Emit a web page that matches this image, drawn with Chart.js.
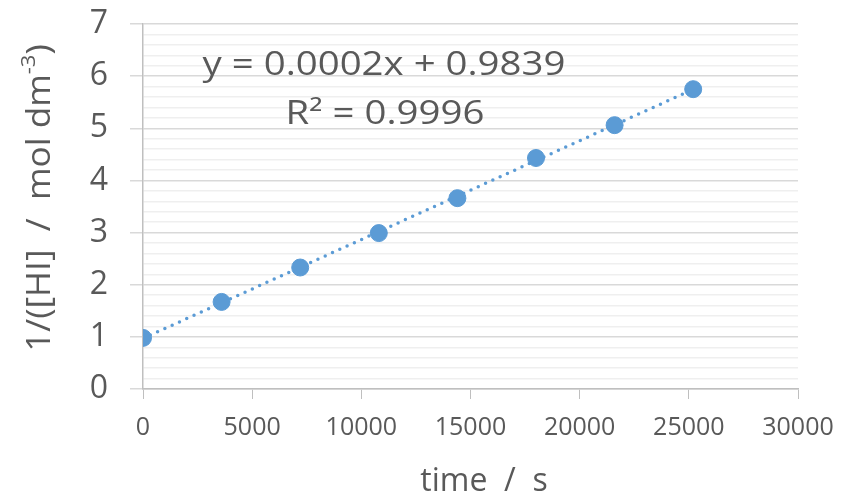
<!DOCTYPE html>
<html>
<head>
<meta charset="utf-8">
<script src="https://cdn.jsdelivr.net/npm/chart.js@4/dist/chart.umd.min.js"></script>
<style>
  body { margin: 0; background: #ffffff; }
  canvas { display: block; }
</style>
</head>
<body>
<canvas id="grafica" width="843" height="500"></canvas>
<script>
// datos
var tiempos = [0, 3600, 7200, 10800, 14400, 18000, 21600, 25200];
var inversoHI = [0.98, 1.67, 2.33, 2.99, 3.66, 4.43, 5.06, 5.75];
var ticksX = [0, 5000, 10000, 15000, 20000, 25000, 30000];
var ecuacion = "y = 0.0002x + 0.9839";
var rCuadrada = "R\u00B2 = 0.9996";

var azul = '#5b9bd5';
var gris = '#595959';

/* linea de tendencia por minimos cuadrados */
function tendencia(xs, ys){
  var n = xs.length, sx = 0, sy = 0, sxx = 0, sxy = 0;
  for (var i = 0; i < n; i++) {
    sx += xs[i]; sy += ys[i]; sxx += xs[i]*xs[i]; sxy += xs[i]*ys[i];
  }
  var m = (n*sxy - sx*sy) / (n*sxx - sx*sx);
  var b = (sy - m*sx) / n;
  var x0 = xs[0], x1 = xs[n-1];
  return [{x: x0, y: m*x0 + b}, {x: x1, y: m*x1 + b}];
}

var puntos = tiempos.map(function(t, i){ return {x: t, y: inversoHI[i]}; });

function esEntero(v){ return Math.abs(v - Math.round(v)) < 1e-6; }

// texto estirado a lo ancho, como en la imagen original
function textoAncho(ctx, txt, cx, cy, esc){
  ctx.save();
  ctx.scale(esc, 1);
  ctx.fillText(txt, cx/esc, cy);
  ctx.restore();
}

var textos = {
  id: 'textos',
  afterDraw: function(chart){
    var ctx = chart.ctx;
    ctx.save();
    ctx.fillStyle = gris;
    ctx.textBaseline = 'middle';
    // ecuacion
    ctx.font = '32px "Open Sans"';
    ctx.textAlign = 'center';
    textoAncho(ctx, ecuacion, 384, 66, 1.2);
    textoAncho(ctx, rCuadrada, 385, 115, 1.2);
    // titulo eje x
    ctx.font = '32px "Open Sans"';
    ctx.fillText('time  /  s', 484, 482);
    // titulo eje y con superindice
    ctx.translate(41, 198);
    ctx.rotate(-Math.PI/2);
    ctx.scale(1.1, 1);
    ctx.textAlign = 'left';
    var p1 = '1/([HI]  /  mol dm', p2 = '-3', p3 = ')';
    ctx.font = '32px "Open Sans"';
    var w1 = ctx.measureText(p1).width, w3 = ctx.measureText(p3).width;
    ctx.font = '20px "Open Sans"';
    var w2 = ctx.measureText(p2).width;
    var x = -(w1 + w2 + w3)/2;
    ctx.font = '32px "Open Sans"';
    ctx.fillText(p1, x, 0);
    ctx.font = '20px "Open Sans"';
    ctx.fillText(p2, x + w1, -12);
    ctx.font = '32px "Open Sans"';
    ctx.fillText(p3, x + w1 + w2, 0);
    ctx.restore();
  }
};

var ctx = document.getElementById('grafica').getContext('2d');
var chart = new Chart(ctx, {
  type: 'scatter',
  data: {
    datasets: [{
      label: 'datos',
      data: puntos,
      backgroundColor: azul,
      borderColor: azul,
      pointRadius: 8.5,
      pointHoverRadius: 8.5,
      order: 1
    }, {
      label: 'tendencia',
      type: 'line',
      data: tendencia(tiempos, inversoHI),
      borderColor: azul,
      borderWidth: 3.5,
      borderDash: [0, 8],
      borderCapStyle: 'round',
      pointRadius: 0,
      fill: false,
      order: 2
    }]
  },
  options: {
    responsive: false,
    animation: false,
    layout: { padding: { top: 24, right: 45, left: 0, bottom: 0 } },
    plugins: { legend: { display: false }, tooltip: { enabled: false } },
    scales: {
      x: {
        type: 'linear',
        min: 0, max: 30000,
        afterBuildTicks: function(scale){
          scale.ticks = ticksX.map(function(v){ return {value: v}; });
        },
        afterFit: function(scale){
          scale.height = 111;
          scale.paddingLeft = 0;
          scale.paddingRight = 0;
        },
        grid: {
          drawOnChartArea: false,
          drawTicks: true,
          tickLength: 10,
          color: '#bfbfbf',
          tickColor: '#bfbfbf'
        },
        border: { color: '#bfbfbf', width: 1.5 },
        ticks: {
          color: gris,
          padding: 14,
          maxRotation: 0,
          font: { family: '"Open Sans"', size: 25 },
          callback: function(v){ return String(v); }
        }
      },
      y: {
        min: 0, max: 7,
        afterFit: function(scale){
          scale.width = 143;
          scale.paddingTop = 0;
          scale.paddingBottom = 0;
        },
        grid: {
          color: function(c){ return esEntero(c.tick.value) ? '#d9d9d9' : '#efefef'; },
          tickColor: function(c){ return esEntero(c.tick.value) ? '#d9d9d9' : 'rgba(0,0,0,0)'; },
          lineWidth: 1.5,
          tickLength: 13
        },
        border: { color: '#bfbfbf', width: 1.5 },
        ticks: {
          stepSize: 0.2,
          autoSkip: false,
          color: gris,
          padding: 22,
          font: { family: '"Open Sans"', size: 32 },
          callback: function(v){ return esEntero(v) ? String(Math.round(v)) : ''; }
        }
      }
    }
  },
  plugins: [textos]
});
</script>
</body>
</html>
